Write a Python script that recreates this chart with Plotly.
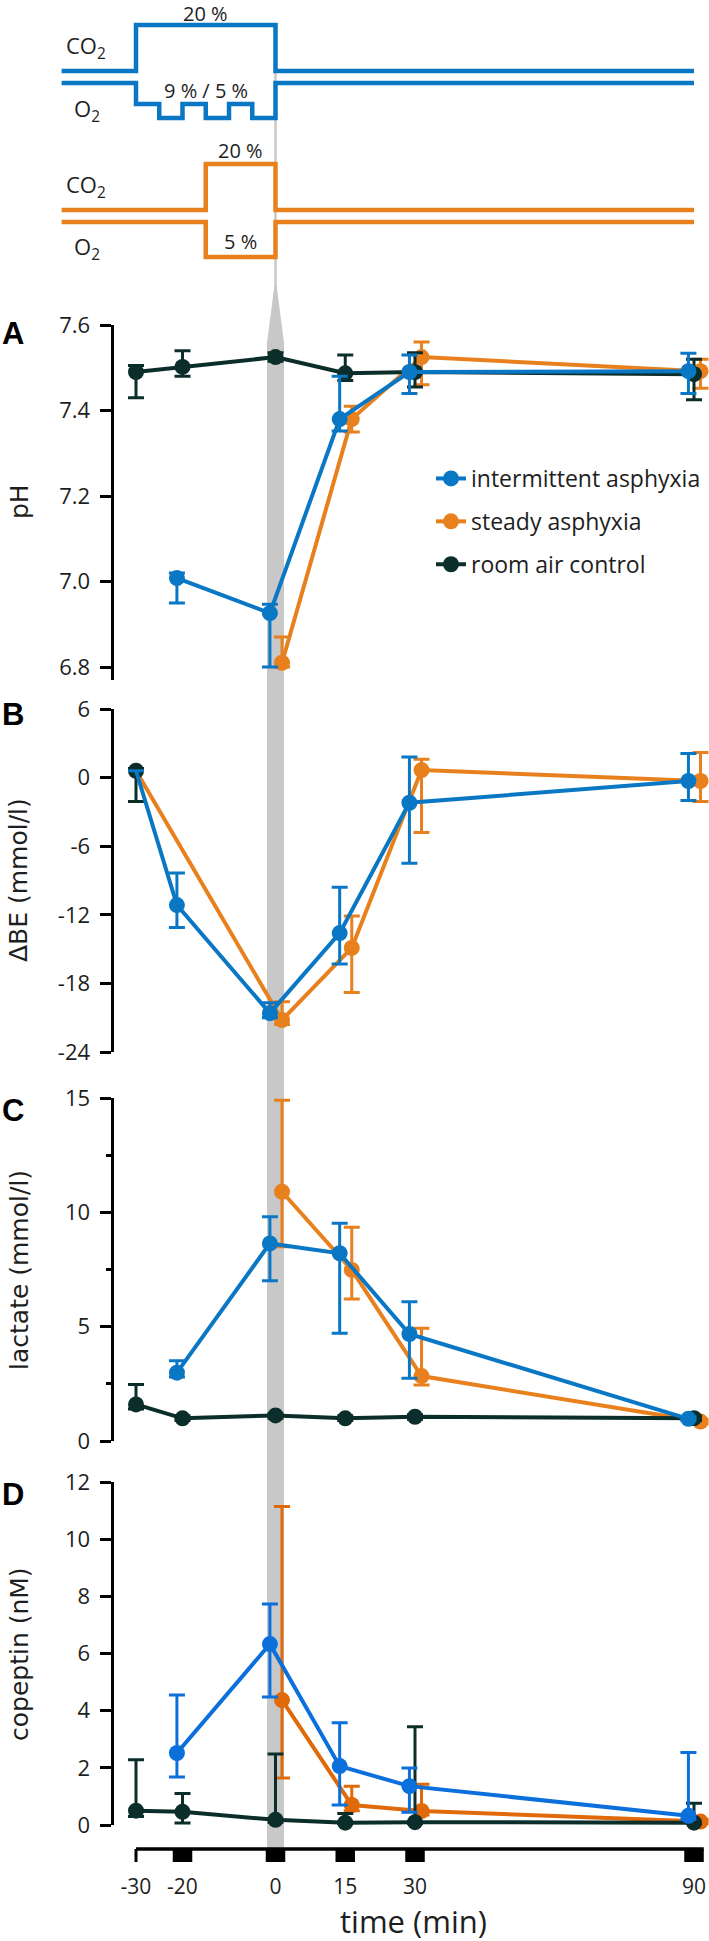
import plotly.graph_objects as go

# ---------------- data ----------------
TIMES = [-30, -20, 0, 15, 30, 90]
TIME_TICKS = [-30, -20, 0, 15, 30, 90]
TIME_LABELS = ["-30", "-20", "0", "15", "30", "90"]
SAMPLE_TIMES = [-20, 0, 15, 30, 90]

SERIES = ["intermittent asphyxia", "steady asphyxia", "room air control"]

# Panel A: pH
PH_IA_T = [-20, 0, 15, 30, 90]
PH_IA = [7.008, 6.926, 7.38, 7.49, 7.492]
PH_IA_HI = [7.02, 6.947, 7.48, 7.53, 7.534]
PH_IA_LO = [6.95, 6.80, 7.352, 7.44, 7.44]
PH_SA_T = [0, 15, 30, 90]
PH_SA = [6.81, 7.38, 7.525, 7.492]
PH_SA_HI = [6.87, 7.41, 7.56, 7.52]
PH_SA_LO = [6.80, 7.35, 7.46, 7.452]
PH_C_T = [-30, -20, 0, 15, 30, 90]
PH_C = [7.49, 7.502, 7.525, 7.487, 7.49, 7.485]
PH_C_HI = [7.505, 7.54, 7.535, 7.53, 7.535, 7.52]
PH_C_LO = [7.43, 7.48, 7.515, 7.47, 7.455, 7.425]

# Panel B: delta base excess
BE_IA_T = [-30, -20, 0, 15, 30, 90]
BE_IA = [0.6, -11.15, -20.6, -13.6, -2.2, -0.3]
BE_IA_HI = [0.6, -8.35, -19.7, -9.6, 1.8, 2.1]
BE_IA_LO = [0.6, -13.1, -21.0, -16.3, -7.5, -2.0]
BE_SA_T = [-30, 0, 15, 30, 90]
BE_SA = [0.6, -21.2, -14.9, 0.66, -0.3]
BE_SA_HI = [0.6, -19.6, -12.1, 1.6, 2.2]
BE_SA_LO = [0.6, -21.6, -18.8, -4.8, -2.1]
BE_C_T = [-30]
BE_C = [0.6]
BE_C_HI = [0.8]
BE_C_LO = [-2.1]

# Panel C: lactate
LA_IA_T = [-20, 0, 15, 30, 90]
LA_IA = [2.99, 8.64, 8.21, 4.68, 0.97]
LA_IA_HI = [3.51, 9.81, 9.52, 6.09, 1.05]
LA_IA_LO = [2.8, 7.01, 4.71, 2.74, 0.9]
LA_SA_T = [0, 15, 30, 90]
LA_SA = [10.9, 7.48, 2.84, 0.85]
LA_SA_HI = [14.9, 9.35, 4.93, 0.95]
LA_SA_LO = [8.5, 6.21, 2.45, 0.75]
LA_C_T = [-30, -20, 0, 15, 30, 90]
LA_C = [1.6, 0.99, 1.12, 0.99, 1.06, 1.0]
LA_C_HI = [2.47, 1.1, 1.2, 1.1, 1.15, 1.1]
LA_C_LO = [1.4, 0.9, 1.0, 0.9, 0.95, 0.9]

# Panel D: copeptin
CP_IA_T = [-20, 0, 15, 30, 90]
CP_IA = [2.52, 6.33, 2.06, 1.36, 0.32]
CP_IA_HI = [4.55, 7.73, 3.58, 1.99, 2.54]
CP_IA_LO = [1.68, 4.48, 0.70, 0.45, 0.2]
CP_SA_T = [0, 15, 30, 90]
CP_SA = [4.37, 0.70, 0.49, 0.12]
CP_SA_HI = [11.14, 1.36, 1.43, 0.2]
CP_SA_LO = [1.64, 0.5, 0.35, 0.05]
CP_C_T = [-30, -20, 0, 15, 30, 90]
CP_C = [0.5, 0.46, 0.18, 0.08, 0.1, 0.08]
CP_C_HI = [2.28, 1.1, 2.48, 0.4, 3.44, 0.76]
CP_C_LO = [0.3, 0.07, 0.1, 0.0, 0.0, 0.0]

# Gas protocol (schematic): change times and gas %
IA_CO2_T = [-46, -30, 0, 90]
IA_CO2 = [0, 20, 0, 0]
IA_O2_T = [-46, -30, -25, -20, -15, -10, -5, 0, 90]
IA_O2 = [21, 9, 5, 9, 5, 9, 5, 21, 21]
SA_CO2_T = [-46, -15, 0, 90]
SA_CO2 = [0, 20, 0, 0]
SA_O2_T = [-46, -15, 0, 90]
SA_O2 = [21, 5, 21, 21]

# ---------------- style / layout ----------------
W, H = 709, 1941
X0_PX, PX_PER_MIN = 275.5, 4.65
XMIN = -X0_PX / PX_PER_MIN
XMAX = (W - X0_PX) / PX_PER_MIN
YAX_X = 111.5 / W

BLUE, ORANGE, DARK = "#0a77c5", "#e8801e", "#0b2e2b"
BLUE_D, ORANGE_D = "#0b6fdc", "#e06a0a"
GRAY = "#c8c8c8"
TXT = "#1e1e1e"
FONT = "Open Sans, Noto Sans, sans-serif"
TFONT = "DejaVu Sans, sans-serif"

DODGE = {"ia": -1.2, "sa": 1.4, "c": 0.0}
MSIZE = 16


def py(px):
    return 1 - px / H


def dodge(ts, key):
    return [t + (0 if t == -30 else DODGE[key]) for t in ts]


fig = go.Figure()

panels = [
    dict(ax="y", name="A", title="pH", rng=[6.7696, 7.6], top=325, bot=680,
         tickvals=[6.8, 7.0, 7.2, 7.4, 7.6], ticktext=["6.8", "7.0", "7.2", "7.4", "7.6"],
         minor=None, letter_y=333, title_y=502, colors=(BLUE, ORANGE),
         ia=(PH_IA_T, PH_IA, PH_IA_HI, PH_IA_LO), sa=(PH_SA_T, PH_SA, PH_SA_HI, PH_SA_LO),
         c=(PH_C_T, PH_C, PH_C_HI, PH_C_LO)),
    dict(ax="y2", name="B", title="ΔBE (mmol/l)", rng=[-24, 6], top=709, bot=1052,
         tickvals=[-24, -18, -12, -6, 0, 6], ticktext=["-24", "-18", "-12", "-6", "0", "6"],
         minor=None, letter_y=714, title_y=880, colors=(BLUE, ORANGE),
         ia=(BE_IA_T, BE_IA, BE_IA_HI, BE_IA_LO), sa=(BE_SA_T, BE_SA, BE_SA_HI, BE_SA_LO),
         c=(BE_C_T, BE_C, BE_C_HI, BE_C_LO)),
    dict(ax="y3", name="C", title="lactate (mmol/l)", rng=[0, 15], top=1098, bot=1441,
         tickvals=[0, 5, 10, 15], ticktext=["0", "5", "10", "15"],
         minor=2.5, letter_y=1110, title_y=1270, colors=(BLUE, ORANGE),
         ia=(LA_IA_T, LA_IA, LA_IA_HI, LA_IA_LO), sa=(LA_SA_T, LA_SA, LA_SA_HI, LA_SA_LO),
         c=(LA_C_T, LA_C, LA_C_HI, LA_C_LO)),
    dict(ax="y4", name="D", title="copeptin (nM)", rng=[0, 12], top=1482, bot=1825,
         tickvals=[0, 2, 4, 6, 8, 10, 12], ticktext=["0", "2", "4", "6", "8", "10", "12"],
         minor=None, letter_y=1494, title_y=1654, colors=(BLUE_D, ORANGE_D),
         ia=(CP_IA_T, CP_IA, CP_IA_HI, CP_IA_LO), sa=(CP_SA_T, CP_SA, CP_SA_HI, CP_SA_LO),
         c=(CP_C_T, CP_C, CP_C_HI, CP_C_LO)),
]


def add_series(p, key, color, label, rank):
    ts, v, hi, lo = p[key]
    if key != "c" and -30 in ts:
        # shared baseline point: line starts there, no own marker
        sizes = [0 if t == -30 else MSIZE for t in ts]
    else:
        sizes = MSIZE
    fig.add_trace(go.Scatter(
        x=dodge(ts, key), y=v, mode="lines+markers", name=label,
        line=dict(color=color, width=4),
        marker=dict(color=color, size=sizes, opacity=1, line=dict(width=0)),
        error_y=dict(type="data", symmetric=False,
                     array=[h - a for h, a in zip(hi, v)],
                     arrayminus=[a - l for a, l in zip(v, lo)],
                     color=color, thickness=3, width=8),
        cliponaxis=False, xaxis="x", yaxis=p["ax"],
        showlegend=(p["name"] == "A"), legendgroup=label, legendrank=rank,
        hoverinfo="skip"))


for p in panels:
    cb, co = p["colors"]
    add_series(p, "sa", co, SERIES[1], 2)
    add_series(p, "c", DARK, SERIES[2], 3)
    add_series(p, "ia", cb, SERIES[0], 1)


# schematic traces
def co2_px(vals, base):
    return [base - v / 20 * 46 for v in vals]


O2_DEPTH = {21: 0, 9: 21, 5: 35}


def o2_px(vals, base):
    return [base + O2_DEPTH[v] for v in vals]


for ts, ys, col in [
    (IA_CO2_T, co2_px(IA_CO2, 71), BLUE),
    (IA_O2_T, o2_px(IA_O2, 83), BLUE),
    (SA_CO2_T, co2_px(SA_CO2, 210), ORANGE),
    (SA_O2_T, o2_px(SA_O2, 222), ORANGE),
]:
    fig.add_trace(go.Scatter(x=ts, y=ys, mode="lines", line=dict(color=col, width=4.5, shape="hv"),
                             xaxis="x", yaxis="y5", showlegend=False, hoverinfo="skip"))

# ---------------- axes ----------------
layout_axes = {}
for i, p in enumerate(panels):
    key = "yaxis" if i == 0 else f"yaxis{i + 1}"
    ax = dict(domain=[py(p["bot"]), py(p["top"])], range=p["rng"], autorange=False,
              anchor="free", position=YAX_X, showline=True, linewidth=3, linecolor="black",
              ticks="outside", ticklen=11, tickwidth=3, tickcolor="black",
              tickvals=p["tickvals"], ticktext=p["ticktext"],
              tickfont=dict(family=FONT, size=22, color=TXT), ticklabelstandoff=5,
              showgrid=False, zeroline=False, fixedrange=True, automargin=False)
    if p["minor"]:
        ax["minor"] = dict(dtick=p["minor"], tick0=0, ticks="outside", ticklen=5,
                           tickwidth=3, tickcolor="black", showgrid=False)
    layout_axes[key] = ax

layout_axes["yaxis5"] = dict(domain=[py(290), 1], range=[290, 0], autorange=False,
                             visible=False, fixedrange=True)

fig.update_layout(
    width=W, height=H, autosize=False,
    margin=dict(l=0, r=0, t=0, b=0, pad=0),
    paper_bgcolor="white", plot_bgcolor="rgba(0,0,0,0)",
    xaxis=dict(domain=[0, 1], range=[XMIN, XMAX], autorange=False,
               anchor="free", position=py(1849), showline=False, showgrid=False,
               zeroline=False, tickvals=TIME_TICKS, ticktext=TIME_LABELS,
               ticks="outside", ticklen=13, tickcolor="rgba(0,0,0,0)",
               ticklabelstandoff=6, automargin=False,
               tickfont=dict(family=FONT, size=21, color=TXT), fixedrange=True),
    legend=dict(x=431 / W, y=py(457), xanchor="left", yanchor="top",
                bgcolor="rgba(0,0,0,0)", font=dict(family=FONT, size=23, color=TXT),
                tracegroupgap=10, traceorder="grouped", itemsizing="trace"),
    **layout_axes,
)

# ---------------- shapes ----------------
shapes = []
shapes.append(dict(type="line", xref="x", yref="paper", x0=0, x1=0, y0=py(25), y1=py(290),
                   line=dict(color=GRAY, width=2.5), layer="below"))
band = (f"M -0.25,{py(286)} L -1.83,{py(343)} L -1.83,{py(1849)} "
        f"L 1.83,{py(1849)} L 1.83,{py(343)} L 0.25,{py(286)} Z")
shapes.append(dict(type="path", xref="x", yref="paper", path=band, fillcolor=GRAY,
                   line=dict(width=0), layer="below"))
shapes.append(dict(type="line", xref="x", yref="paper", x0=TIME_TICKS[0], x1=SAMPLE_TIMES[-1] + 2.1,
                   y0=py(1849), y1=py(1849), line=dict(color="black", width=3.5)))
shapes.append(dict(type="line", xref="x", yref="paper", x0=TIME_TICKS[0], x1=TIME_TICKS[0],
                   y0=py(1849), y1=py(1862), line=dict(color="black", width=3)))
for t in SAMPLE_TIMES:
    shapes.append(dict(type="rect", xref="x", yref="paper", x0=t - 2.1, x1=t + 2.1,
                       y0=py(1862), y1=py(1849), fillcolor="black", line=dict(width=0)))
fig.update_layout(shapes=shapes)

# ---------------- annotations ----------------
ann = []
for p in panels:
    ann.append(dict(text=f"<b>{p['name']}</b>", x=12.5 / W, y=py(p["letter_y"]), xref="paper",
                    yref="paper", showarrow=False, xanchor="center", yanchor="middle",
                    font=dict(family="Liberation Sans, Arial, sans-serif", size=31, color="black")))
    ann.append(dict(text=p["title"], x=19 / W, y=py(p["title_y"]), xref="paper", yref="paper",
                    showarrow=False, textangle=-90, xanchor="center", yanchor="middle",
                    font=dict(family=TFONT, size=25, color=TXT)))

ann.append(dict(text="time (min)", x=413 / W, y=py(1921), xref="paper", yref="paper",
                showarrow=False, xanchor="center", yanchor="middle",
                font=dict(family=FONT, size=31, color=TXT)))

sfont = dict(family=FONT, size=20, color=TXT)
for txt, xv, ypx in [
    ("20 %", (IA_CO2_T[1] + IA_CO2_T[2]) / 2, 14),
    ("9 % / 5 %", (IA_CO2_T[1] + IA_CO2_T[2]) / 2, 90),
    ("20 %", (SA_CO2_T[1] + SA_CO2_T[2]) / 2, 150),
    ("5 %", (SA_O2_T[1] + SA_O2_T[2]) / 2, 241),
]:
    ann.append(dict(text=txt, x=xv, y=py(ypx), xref="x", yref="paper", showarrow=False,
                    xanchor="center", yanchor="middle", font=sfont))

gfont = dict(family=FONT, size=22, color=TXT)
for lab, xpx, ypx in [("CO<sub>2</sub>", 64, 47), ("O<sub>2</sub>", 72, 110),
                      ("CO<sub>2</sub>", 64, 186), ("O<sub>2</sub>", 72, 248)]:
    ann.append(dict(text=lab, x=xpx / W, y=py(ypx), xref="paper", yref="paper",
                    showarrow=False, xanchor="left", yanchor="middle", font=gfont))

fig.update_layout(annotations=ann)

fig.write_html("out.html", config={"displayModeBar": False},
               post_script="document.body.style.margin='0';")
